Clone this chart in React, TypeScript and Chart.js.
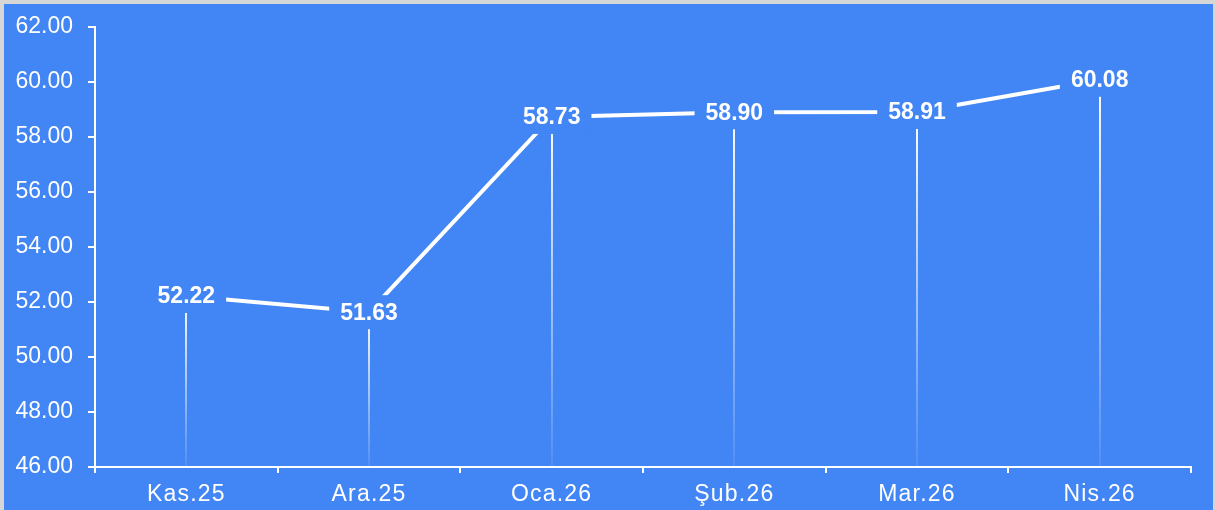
import React, { useEffect, useRef } from "react";
import { Chart, registerables } from "chart.js";

Chart.register(...registerables);

const categories = ["Kas.25", "Ara.25", "Oca.26", "Şub.26", "Mar.26", "Nis.26"];
const values = [52.22, 51.63, 58.73, 58.9, 58.91, 60.08];
const yMin = 46;
const yMax = 62;
const yStep = 2;

const BG = "#4285F4";
const FONT = "'Liberation Sans', Arial, sans-serif";

const dropLines = {
  id: "dropLines",
  beforeDatasetsDraw(chart: any) {
    const meta = chart.getDatasetMeta(0);
    const ctx = chart.ctx;
    const bottom = chart.chartArea.bottom;
    ctx.save();
    meta.data.forEach((pt: any) => {
      const g = ctx.createLinearGradient(0, pt.y, 0, bottom);
      g.addColorStop(0, "rgba(255,255,255,1)");
      g.addColorStop(1, "rgba(255,255,255,0.08)");
      ctx.strokeStyle = g;
      ctx.lineWidth = 2;
      ctx.beginPath();
      ctx.moveTo(Math.round(pt.x), pt.y);
      ctx.lineTo(Math.round(pt.x), bottom);
      ctx.stroke();
    });
    ctx.restore();
  },
};

const valueLabels = {
  id: "valueLabels",
  afterDatasetsDraw(chart: any) {
    const meta = chart.getDatasetMeta(0);
    const ctx = chart.ctx;
    ctx.save();
    ctx.font = `bold 23px ${FONT}`;
    ctx.textAlign = "center";
    ctx.textBaseline = "middle";
    meta.data.forEach((pt: any, i: number) => {
      const txt = values[i].toFixed(2);
      const w = ctx.measureText(txt).width + 22;
      const h = 34;
      ctx.fillStyle = BG;
      ctx.fillRect(pt.x - w / 2, pt.y - h / 2, w, h);
      ctx.fillStyle = "#ffffff";
      ctx.fillText(txt, pt.x, pt.y + 1);
    });
    ctx.restore();
  },
};

export default function App() {
  const ref = useRef<HTMLCanvasElement>(null);
  useEffect(() => {
    document.body.style.margin = "0";
    const chart = new Chart(ref.current!, {
      type: "line",
      data: {
        labels: categories,
        datasets: [
          {
            data: values,
            borderColor: "#ffffff",
            borderWidth: 4,
            pointRadius: 0,
            tension: 0,
            fill: false,
          },
        ],
      },
      options: {
        animation: false,
        responsive: false,
        maintainAspectRatio: false,
        layout: { padding: { top: 23, right: 22, bottom: 0, left: 0 } },
        plugins: { legend: { display: false }, tooltip: { enabled: false } },
        scales: {
          x: {
            offset: true,
            grid: {
              offset: true,
              drawOnChartArea: false,
              drawTicks: true,
              tickLength: 6,
              color: "#ffffff",
              lineWidth: 2,
            },
            border: { color: "#ffffff", width: 2 },
            ticks: {
              color: "#ffffff",
              font: { family: FONT, size: 23 },
              padding: 8,
              maxRotation: 0,
            },
            afterFit(scale: any) {
              scale.height = 43;
              scale.paddingLeft = 0;
              scale.paddingRight = 0;
              if (!scale.__ls) {
                scale.__ls = true;
                const orig = scale.drawLabels.bind(scale);
                scale.drawLabels = (ca: any) => {
                  const c = scale.ctx;
                  c.save();
                  c.letterSpacing = "1.2px";
                  orig(ca);
                  c.restore();
                };
              }
            },
          },
          y: {
            min: yMin,
            max: yMax,
            grid: {
              drawOnChartArea: false,
              tickLength: 7,
              color: "#ffffff",
              lineWidth: 2,
            },
            border: { color: "#ffffff", width: 2 },
            ticks: {
              stepSize: yStep,
              color: "#ffffff",
              font: { family: FONT, size: 23 },
              padding: 15,
              callback: (v: any) => Number(v).toFixed(2),
            },
            afterFit(scale: any) {
              scale.width = 91;
              scale.paddingTop = 0;
              scale.paddingBottom = 0;
            },
          },
        },
      },
      plugins: [dropLines, valueLabels],
    });
    return () => chart.destroy();
  }, []);
  return (
    <div style={{ width: 1215, height: 510, background: "#d6d6d6", position: "relative", overflow: "hidden" }}>
      <div style={{ position: "absolute", left: 4, top: 4, width: 1209, height: 506, background: BG }}>
        <canvas ref={ref} width={1209} height={506} style={{ display: "block" }} />
      </div>
    </div>
  );
}
